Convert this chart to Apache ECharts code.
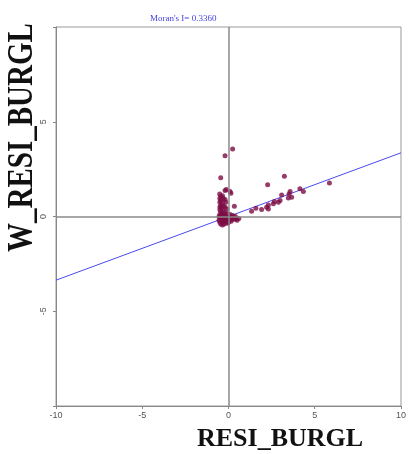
<!DOCTYPE html>
<html>
<head>
<meta charset="utf-8">
<script src="https://cdn.jsdelivr.net/npm/echarts@6/dist/echarts.min.js"></script>
<style>
html,body{margin:0;padding:0;background:#fff;}
#chart{width:409px;height:454px;}
</style>
</head>
<body>
<div id="chart"></div>
<script>
// Tick values
var xTicks = [-10, -5, 0, 5, 10];
var yTicks = [-10, -5, 0, 5, 10];
// Regression line endpoints (slope = Moran's I)
var lineX = [-10, 10];
var lineY = [-3.36, 3.36];
var titleText = "Moran's I= 0.3360";
// Scatter values: RESI_BURGL (x) vs W_RESI_BURGL (y)
var outerPoints = [
  [0.24,3.56],[-0.2,3.21],[-0.45,2.04],[2.27,1.67],[3.24,2.12],[5.85,1.77],
  [4.14,1.46],[4.34,1.32],[3.57,1.32],[3.51,1.19],[3.08,1.14],[3.47,0.98],
  [3.66,1.02],[2.99,0.84],[2.89,0.75],[2.66,0.79],[2.6,0.67],[2.31,0.61],
  [2.21,0.49],[2.31,0.40],[1.92,0.37],[1.59,0.44],[1.34,0.28],[0.34,0.54],
  [-0.13,1.42],[-0.2,1.37],[0.09,1.32],[0.14,1.23],[-0.51,1.19]
];
var clusterPoints = [
  [-0.45,1.05],[-0.35,1.1],[-0.5,0.95],[-0.3,0.95],[-0.45,0.85],[-0.2,0.9],
  [-0.5,0.75],[-0.35,0.7],[-0.15,0.75],[-0.45,0.6],[-0.3,0.55],[-0.5,0.5],
  [-0.2,0.5],[-0.4,0.45],[-0.1,0.4],[-0.5,0.35],[-0.3,0.3],[-0.45,0.25],
  [-0.2,0.2],[-0.35,0.15],[-0.5,0.1],[-0.25,0.1],[-0.4,0.05],
  [-0.55,0.0],[-0.4,-0.05],[-0.25,0.0],[-0.1,-0.05],[0.05,0.0],[-0.5,-0.1],
  [-0.35,-0.15],[-0.2,-0.1],[0.0,-0.1],[0.15,-0.05],[0.3,-0.05],[0.45,-0.1],
  [0.6,-0.1],[-0.55,-0.2],[-0.4,-0.25],[-0.25,-0.2],[-0.1,-0.2],[0.05,-0.2],
  [0.2,-0.15],[0.35,-0.15],[-0.5,-0.3],[-0.3,-0.3],[-0.15,-0.3],[0.0,-0.3],
  [0.15,-0.25],[-0.45,-0.4],[-0.25,-0.4],[-0.05,-0.35],[-0.35,-0.45],
  [0.5,-0.2],[0.25,0.05],[0.1,0.1],[-0.05,0.15],[0.4,0.0]
];
var xName = 'RESI_BURGL';
var yName = 'W_RESI_BURGL';

var chart = echarts.init(document.getElementById('chart'), null, {renderer:'canvas'});
var axisLabelStyle = {color:'#555', fontSize:9, fontFamily:'Liberation Sans'};
chart.setOption({
  animation:false,
  backgroundColor:'#fff',
  title:{
    text:titleText, left:145, top:9,
    textStyle:{color:'#4444dd', fontSize:9, fontWeight:'normal', fontFamily:'Liberation Serif'}
  },
  grid:{left:56, right:8, top:27, bottom:48, show:true, borderColor:'#999', borderWidth:1},
  xAxis:{
    type:'value', min:xTicks[0], max:xTicks[xTicks.length-1], interval:5,
    axisLine:{show:true, onZero:false, lineStyle:{color:'#888', width:1}},
    axisTick:{show:true, length:3, lineStyle:{color:'#888'}},
    axisLabel:Object.assign({margin:5}, axisLabelStyle),
    splitLine:{show:false}
  },
  yAxis:{
    type:'value', min:yTicks[0], max:yTicks[yTicks.length-1], interval:5,
    axisLine:{show:true, onZero:false, lineStyle:{color:'#888', width:1}},
    axisTick:{show:true, length:3, lineStyle:{color:'#888'}},
    axisLabel:Object.assign({rotate:90, margin:8,
      formatter:function(v){ return (v===yTicks[0]||v===yTicks[yTicks.length-1]) ? '' : String(v); }
    }, axisLabelStyle),
    splitLine:{show:false}
  },
  graphic:[
    {type:'text', left:197, top:426, style:{text:xName, fill:'#111', font:'bold 26px "Liberation Serif"'}},
    {type:'text', x:5, y:252, rotation:Math.PI/2, scaleY:1.25,
      style:{text:yName, fill:'#111', font:'bold 29px "Liberation Serif"', textVerticalAlign:'top'}}
  ],
  series:[
    {
      type:'line', data:[[lineX[0],lineY[0]],[lineX[1],lineY[1]]],
      symbol:'none', lineStyle:{color:'#4a4aee', width:1}, silent:true, z:3,
      markLine:{
        silent:true, symbol:'none', label:{show:false},
        lineStyle:{color:'#8a8a8a', width:1.5, type:'solid'},
        data:[{xAxis:0},{yAxis:0}]
      }
    },
    {
      type:'scatter', data:clusterPoints.concat(outerPoints), symbolSize:5,
      itemStyle:{color:'#7d0c45'}, z:4
    }
  ]
});
</script>
</body>
</html>
